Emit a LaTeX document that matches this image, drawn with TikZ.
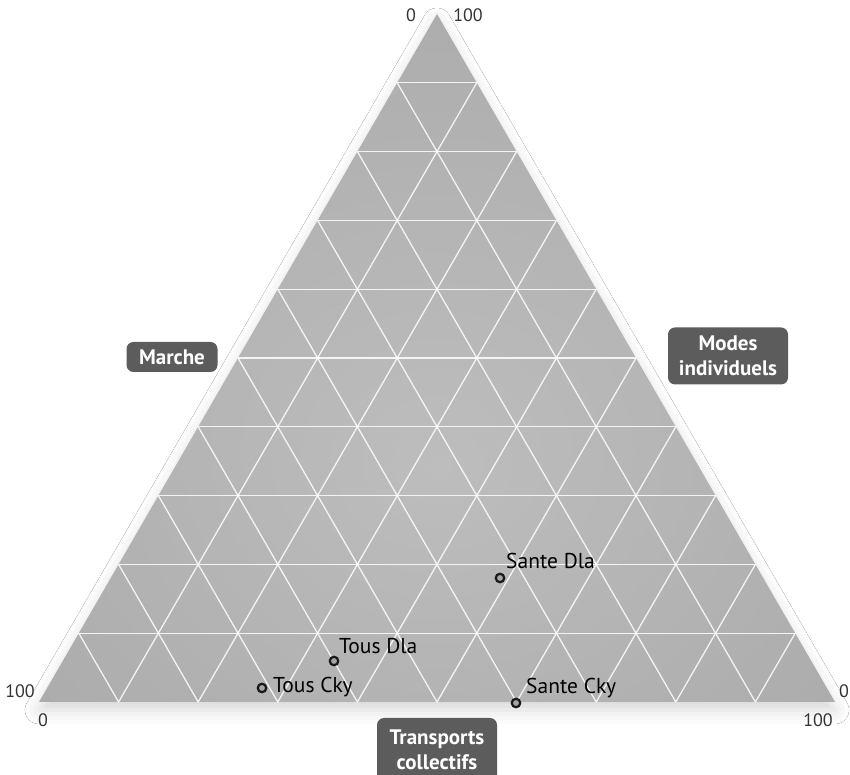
\documentclass[tikz,border=0pt]{standalone}
\usepackage{fontspec}
\setmainfont{PT Sans}
\usepackage{tikz}
\usetikzlibrary{calc}
\usetikzlibrary{positioning}
\usetikzlibrary{shadows.blur}
\definecolor{tagfill}{HTML}{5C5C5C}
\definecolor{triin}{HTML}{BDBDBD}
\definecolor{triout}{HTML}{A0A0A0}
\pgfdeclareradialshading{trishade}{\pgfpoint{0bp}{-8bp}}{color(0bp)=(triin); color(55bp)=(triout); color(80bp)=(triout)}
\tikzstyle{grid} = [draw=white, line width=1.3pt, opacity=0.85]
\tikzstyle{axisnum} = [font=\fontsize{18}{20}\selectfont, text=black!80, inner sep=0pt]
\tikzstyle{pt} = [circle, draw=black!90, line width=2.2pt, fill=gray!70, inner sep=0pt, minimum size=8.5pt]
\tikzstyle{ptlabel} = [font=\fontsize{21.5}{24}\selectfont, inner sep=0pt]
\tikzstyle{tag} = [fill=tagfill, rounded corners=7pt, text=white, align=center, inner sep=0pt,
	font=\bfseries\fontsize{21}{25}\selectfont]

\begin{document}
\begin{tikzpicture}[x=1pt,y=1pt]
	\useasboundingbox[fill=white] (0,0) rectangle (850,775);

	\coordinate (A) at (39,73);
	\coordinate (B) at (835,73);
	\coordinate (C) at (437,761);

	% ------------------- Triangle + grid ------------------- %
	\shade[shading=trishade, blur shadow={shadow xshift=0pt, shadow yshift=-8pt, shadow blur radius=14pt, shadow opacity=16}]
		(A) -- (B) -- (C) -- cycle;
	\foreach \i in {1,...,9}{
		\draw[grid] ($(A)!{\i/10}!(C)$) -- ($(B)!{\i/10}!(C)$);
		\draw[grid] ($(A)!{\i/10}!(B)$) -- ($(C)!{\i/10}!(B)$);
		\draw[grid] ($(A)!{\i/10}!(B)$) -- ($(A)!{\i/10}!(C)$);
	}

	% ------------------- Corner values ------------------- %
	\node[axisnum] (topzero) at (411,760) {0};
	\node[axisnum] (tophund) at (468,760) {100};
	\node[axisnum] (lefthund) at (20,84) {100};
	\node[axisnum] (leftzero) at (43,55) {0};
	\node[axisnum] (rightzero) at (844,84) {0};
	\node[axisnum] (righthund) at (818,55) {100};

	% ------------------- Points + labels ------------------- %
	\node[pt] (touscky) at (262,87) {};
	\node[ptlabel, anchor=west] at (273,88) {Tous Cky};

	\node[pt] (tousdla) at (334,114) {};
	\node[ptlabel, anchor=west] at (339,129) {Tous Dla};

	\node[pt] (santedla) at (500,197) {};
	\node[ptlabel, anchor=west] at (506,214) {Sante Dla};

	\node[pt] (santecky) at (516,72) {};
	\node[ptlabel, anchor=west] at (526,87) {Sante Cky};

	% ------------------- Axis tags ------------------- %
	\node[tag, minimum width=91pt, minimum height=30pt] (marche) at (172,418) {Marche};
	\node[tag, minimum width=120pt, minimum height=57pt] (modes) at (728,419) {Modes\\individuels};
	\node[tag, minimum width=120pt, minimum height=64pt] (transports) at (437,25) {Transports\\collectifs};

\end{tikzpicture}
\end{document}
